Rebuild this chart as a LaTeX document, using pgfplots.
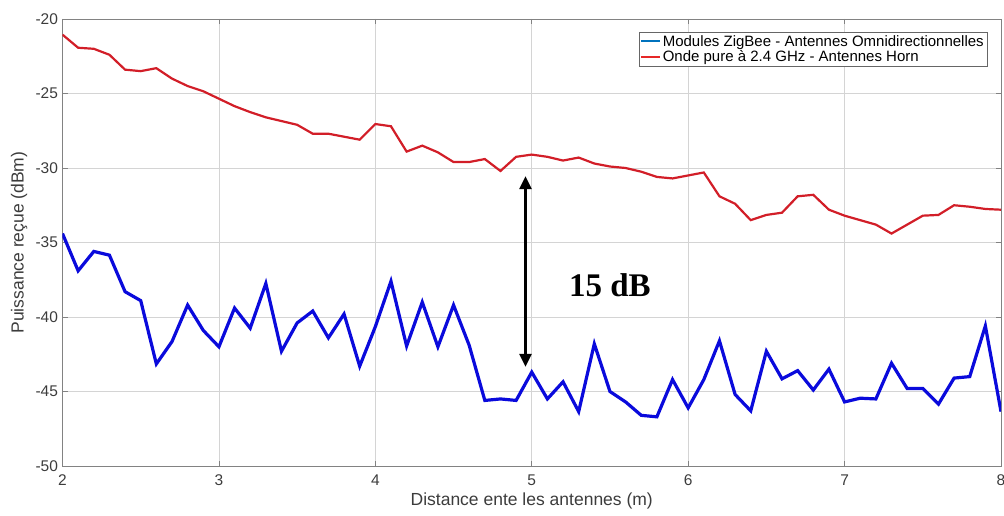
\documentclass[border=0pt]{standalone}
\usepackage{pgfplots}
\pgfplotsset{compat=1.18}
\usetikzlibrary{arrows.meta}
\usepackage{fontspec}
\setmainfont{Liberation Sans}
\newfontfamily\serifb{Liberation Serif}
\definecolor{redline}{RGB}{210,30,40}
\definecolor{blueline}{RGB}{10,10,220}
\definecolor{legblue}{RGB}{0,114,189}
\definecolor{legred}{RGB}{230,40,40}
\definecolor{axgray}{RGB}{130,130,130}
\definecolor{txtgray}{RGB}{60,60,60}
\begin{document}
\begin{tikzpicture}
\begin{axis}[
  name=ax,
  scale only axis,
  width=938.5pt, height=447pt,
  xmin=2, xmax=8, ymin=-50, ymax=-20,
  xtick={2,3,4,5,6,7,8},
  ytick={-50,-45,-40,-35,-30,-25,-20},
  grid=major,
  major grid style={black!17, line width=0.8pt},
  axis line style={axgray, line width=0.8pt},
  tick style={axgray, line width=0.8pt},
  major tick length=5pt,
  tick align=inside,
  /pgf/number format/assume math mode=true,
  ticklabel style={font=\fontsize{15.5}{18}\selectfont, text=txtgray},
  xticklabel style={yshift=-5pt},
  yticklabel style={xshift=-1pt},
  xlabel={Distance ente les antennes (m)},
  ylabel={Puissance reçue (dBm)},
  label style={font=\fontsize{17.5}{20}\selectfont, text=txtgray},
  xlabel style={at={([yshift=-27pt]axis description cs:0.5,0)}, anchor=north, inner sep=0pt},
  ylabel style={at={([xshift=-35pt]axis description cs:0,0.5)}, anchor=south, inner sep=0pt},
  legend style={
    at={([xshift=-14pt,yshift=-13pt]axis description cs:1,1)}, anchor=north east,
    font=\fontsize{15}{16}\selectfont, draw=black!60,
    inner sep=1pt, row sep=-1pt, cells={anchor=west}},
  legend cell align=left,
  legend image code/.code={\draw[#1] (0pt,0pt) -- (19pt,0pt);},
]
\addplot[blueline, line width=3.2pt, line join=miter,
  legend image post style={color=legblue, line width=1.8pt}] coordinates {
(2.0,-34.4) (2.1,-36.9) (2.2,-35.6) (2.3,-35.85) (2.4,-38.3) (2.5,-38.9)
(2.6,-43.15) (2.7,-41.65) (2.8,-39.2) (2.9,-40.9) (3.0,-42.0) (3.1,-39.4)
(3.2,-40.75) (3.3,-37.75) (3.4,-42.3) (3.5,-40.4) (3.6,-39.6) (3.7,-41.4)
(3.8,-39.8) (3.9,-43.3) (4.0,-40.65) (4.1,-37.6) (4.2,-41.95) (4.3,-39.0)
(4.4,-42.0) (4.5,-39.2) (4.6,-41.9) (4.7,-45.6) (4.8,-45.5) (4.9,-45.6)
(5.0,-43.7) (5.1,-45.5) (5.2,-44.35) (5.3,-46.35) (5.4,-41.8) (5.5,-45.0)
(5.6,-45.7) (5.7,-46.6) (5.8,-46.7) (5.9,-44.2) (6.0,-46.1) (6.1,-44.2)
(6.2,-41.6) (6.3,-45.2) (6.4,-46.3) (6.5,-42.3) (6.6,-44.15) (6.7,-43.6)
(6.8,-44.9) (6.9,-43.5) (7.0,-45.7) (7.1,-45.45) (7.2,-45.5) (7.3,-43.1)
(7.4,-44.8) (7.5,-44.8) (7.6,-45.85) (7.7,-44.1) (7.8,-44.0) (7.9,-40.6)
(8.0,-46.35)
};
\addlegendentry{Modules ZigBee - Antennes Omnidirectionnelles}
\addplot[redline, line width=2.2pt,
  legend image post style={color=legred, line width=1.8pt}] coordinates {
(2.0,-21.05) (2.1,-21.93) (2.2,-22.0) (2.3,-22.4) (2.4,-23.4) (2.5,-23.5)
(2.6,-23.3) (2.7,-24.0) (2.8,-24.5) (2.9,-24.85) (3.0,-25.35) (3.1,-25.85)
(3.2,-26.25) (3.3,-26.6) (3.4,-26.85) (3.5,-27.1) (3.6,-27.7) (3.7,-27.7)
(3.8,-27.9) (3.9,-28.1) (4.0,-27.05) (4.1,-27.2) (4.2,-28.9) (4.3,-28.5)
(4.4,-28.95) (4.5,-29.6) (4.6,-29.6) (4.7,-29.4) (4.8,-30.2) (4.9,-29.25)
(5.0,-29.1) (5.1,-29.25) (5.2,-29.5) (5.3,-29.3) (5.4,-29.7) (5.5,-29.9)
(5.6,-30.0) (5.7,-30.25) (5.8,-30.6) (5.9,-30.7) (6.0,-30.5) (6.1,-30.3)
(6.2,-31.9) (6.3,-32.4) (6.4,-33.5) (6.5,-33.15) (6.6,-33.0) (6.7,-31.9)
(6.8,-31.8) (6.9,-32.8) (7.0,-33.2) (7.1,-33.5) (7.2,-33.8) (7.3,-34.4)
(7.4,-33.8) (7.5,-33.2) (7.6,-33.15) (7.7,-32.5) (7.8,-32.6) (7.9,-32.75)
(8.0,-32.8)
};
\addlegendentry{Onde pure à 2.4 GHz - Antennes Horn}
\draw[black, line width=2.6pt, {Triangle[width=12pt,length=13pt]}-{Triangle[width=12pt,length=13pt]}]
  (axis cs:4.96,-30.55) -- (axis cs:4.96,-43.35);
\node[font=\serifb\bfseries\fontsize{33}{36}\selectfont, inner sep=0pt] at (axis cs:5.5,-37.85) {15 dB};
\end{axis}
\pgfresetboundingbox
\useasboundingbox ([shift={(-62.5pt,-50pt)}]ax.south west) rectangle ([shift={(3pt,19pt)}]ax.north east);
\end{tikzpicture}
\end{document}
